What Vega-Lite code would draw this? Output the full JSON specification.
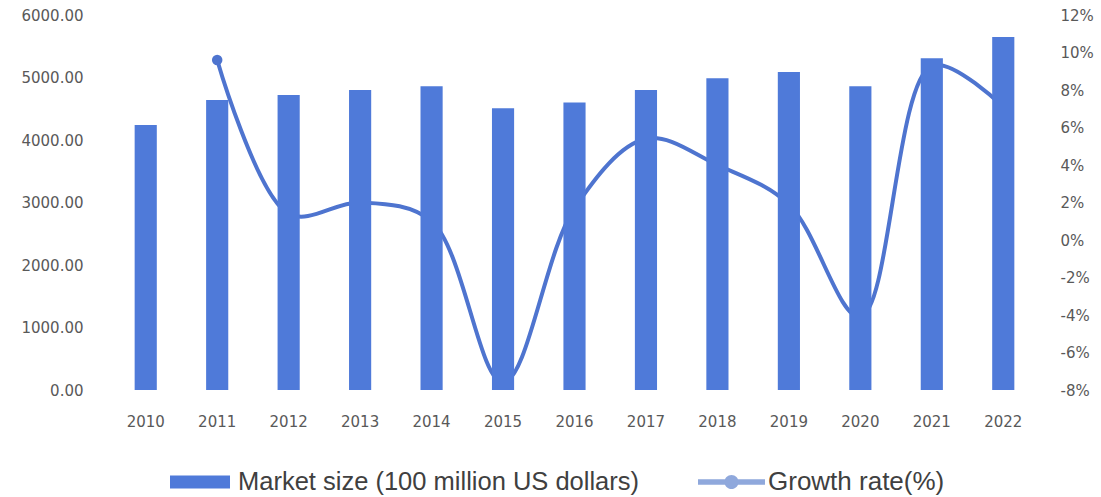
{
  "$schema": "https://vega.github.io/schema/vega-lite/v6.json",
  "autosize": "none",
  "width": 929,
  "height": 375,
  "padding": {"left": 110, "top": 15, "right": 62, "bottom": 107},
  "background": "white",
  "config": {"view": {"stroke": null}, "font": "DejaVu Sans"},
  "data": {"values": [
    {"year": "2010", "market": 4240, "growth": null},
    {"year": "2011", "market": 4640, "growth": 9.6},
    {"year": "2012", "market": 4720, "growth": 1.4},
    {"year": "2013", "market": 4800, "growth": 2.0},
    {"year": "2014", "market": 4860, "growth": 1.0},
    {"year": "2015", "market": 4510, "growth": -7.6},
    {"year": "2016", "market": 4600, "growth": 1.7},
    {"year": "2017", "market": 4800, "growth": 5.4},
    {"year": "2018", "market": 4990, "growth": 4.0},
    {"year": "2019", "market": 5090, "growth": 1.9},
    {"year": "2020", "market": 4860, "growth": -4.1},
    {"year": "2021", "market": 5310, "growth": 9.3},
    {"year": "2022", "market": 5650, "growth": 7.1}
  ]},
  "encoding": {
    "x": {"field": "year", "type": "ordinal", "scale": {"paddingInner": 0.69, "paddingOuter": 0.345},
      "axis": {"title": null, "labelAngle": 0, "domain": false, "ticks": false, "labelPadding": 24, "labelFontSize": 15, "labelColor": "#595959", "labelFont": "DejaVu Sans"}}
  },
  "layer": [
    {
      "transform": [{"filter": "datum.growth != null"}],
      "encoding": {
        "y": {"field": "growth", "type": "quantitative", "scale": {"domain": [-8, 12]},
          "axis": {"title": null, "orient": "right", "values": [-8, -6, -4, -2, 0, 2, 4, 6, 8, 10, 12], "labelExpr": "datum.value + '%'", "grid": false, "domain": false, "ticks": false, "labelPadding": 21, "labelFontSize": 15, "labelColor": "#595959", "labelOverlap": false}}
      },
      "layer": [
        {
          "mark": {"type": "line", "interpolate": "catmull-rom", "strokeWidth": 4, "color": "#4e74cf"},
          "encoding": {
            "stroke": {"datum": "Growth rate(%)", "scale": {"range": ["#4e74cf"]},
              "legend": {"title": null, "orient": "none", "legendX": 588, "legendY": 433.5, "symbolType": "M-1,-0.08L1,-0.08L1,0.08L-1,0.08Z M-0.21,0A0.21,0.21 0 1,1 0.21,0A0.21,0.21 0 1,1 -0.21,0Z", "symbolSize": 4489, "symbolStrokeWidth": 0, "labelFont": "Liberation Sans", "labelFontSize": 26, "labelColor": "#404040", "labelLimit": 700, "labelOffset": 3,
                "encode": {"symbols": {"update": {"fill": {"value": "#8fa8dc"}, "stroke": {"value": null}}}}}}
          }
        },
        {
          "transform": [{"filter": "datum.year == '2011'"}],
          "mark": {"type": "point", "filled": true, "size": 110, "opacity": 1, "color": "#4e74cf"}
        }
      ]
    },
    {
      "mark": {"type": "bar", "color": "#4f7ad9"},
      "encoding": {
        "y": {"field": "market", "type": "quantitative", "scale": {"domain": [0, 6000]},
          "axis": {"title": null, "orient": "left", "values": [0, 1000, 2000, 3000, 4000, 5000, 6000], "format": ".2f", "grid": false, "domain": false, "ticks": false, "labelPadding": 27, "labelFontSize": 15, "labelColor": "#595959", "labelOverlap": false}},
        "fill": {"datum": "Market size (100 million US dollars)", "scale": {"range": ["#4f7ad9"]},
          "legend": {"title": null, "orient": "none", "legendX": 60, "legendY": 437, "symbolType": "M-1,-0.22L1,-0.22L1,0.22L-1,0.22Z", "symbolSize": 3600, "symbolStrokeWidth": 0, "labelFont": "Liberation Sans", "labelFontSize": 25.5, "labelColor": "#404040", "labelLimit": 700, "labelOffset": 8,
            "encode": {"symbols": {"update": {"fill": {"value": "#3a60b0"}, "stroke": {"value": null}}}}}}
      }
    }
  ],
  "resolve": {"scale": {"y": "independent"}}
}
